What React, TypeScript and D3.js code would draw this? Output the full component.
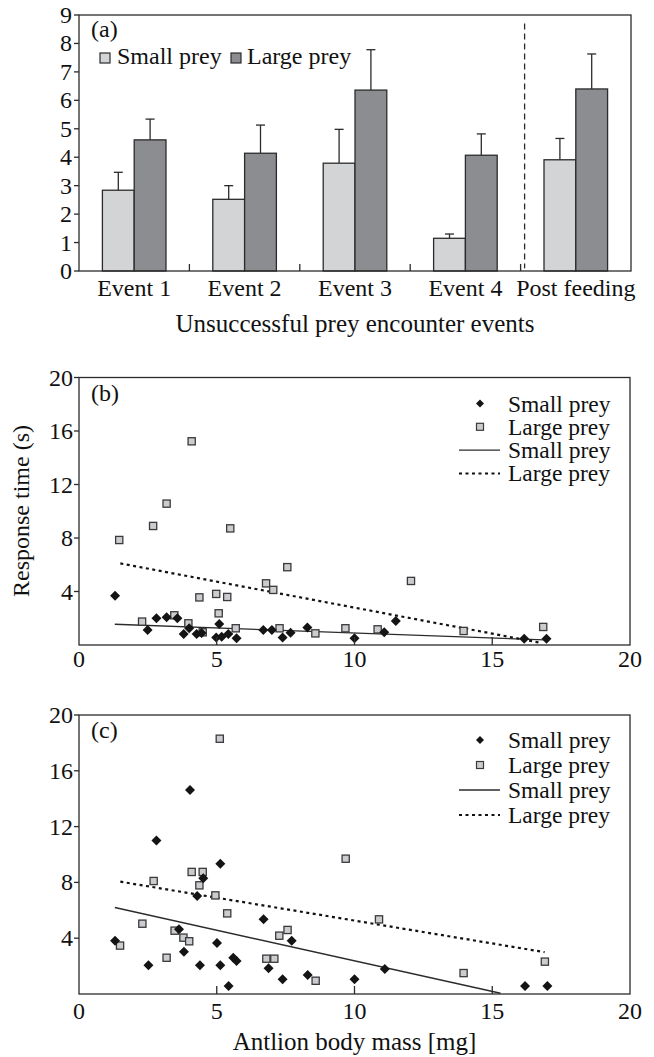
import React from "react";
import * as d3 from "d3";

// ---------- Panel (a) data ----------
const barCategories = ["Event 1", "Event 2", "Event 3", "Event 4", "Post feeding"];
const barSeries = ["Small prey", "Large prey"];
const smallPreyMean = [2.84, 2.52, 3.79, 1.15, 3.91];
const smallPreyErrTop = [3.47, 3.0, 4.98, 1.3, 4.66];
const largePreyMean = [4.61, 4.14, 6.36, 4.07, 6.4];
const largePreyErrTop = [5.34, 5.13, 7.78, 4.82, 7.63];
const barYTicks = [0, 1, 2, 3, 4, 5, 6, 7, 8, 9];

// ---------- Panel (b) data ----------
const bSmallX = [1.31, 2.49, 2.81, 3.18, 3.57, 3.8, 4.0, 4.27, 4.45, 4.98, 5.09, 5.18, 5.42, 5.72, 6.69, 7.0, 7.39, 7.68, 8.29, 10.0, 11.08, 11.5, 16.16, 16.97];
const bSmallY = [3.69, 1.12, 2.0, 2.07, 2.0, 0.82, 1.25, 0.82, 0.9, 0.57, 1.57, 0.62, 0.82, 0.5, 1.12, 1.12, 0.57, 0.92, 1.3, 0.5, 0.95, 1.79, 0.47, 0.47];
const bLargeX = [1.46, 2.29, 2.69, 3.18, 3.46, 3.97, 4.09, 4.37, 4.49, 4.98, 5.07, 5.38, 5.49, 5.69, 6.79, 7.05, 7.28, 7.56, 8.58, 9.67, 10.84, 12.05, 13.96, 16.85];
const bLargeY = [7.85, 1.75, 8.9, 10.57, 2.22, 1.62, 15.23, 3.56, 0.95, 3.82, 2.37, 3.59, 8.72, 1.25, 4.61, 4.12, 1.25, 5.82, 0.87, 1.25, 1.17, 4.79, 1.05, 1.35];
const bSmallFitX = [1.3, 16.9];
const bSmallFitY = [1.55, 0.38];
const bLargeFitX = [1.5, 16.8];
const bLargeFitY = [6.1, 0.15];

// ---------- Panel (c) data ----------
const cSmallX = [1.31, 2.52, 2.81, 3.63, 3.81, 4.03, 4.29, 4.39, 4.51, 5.01, 5.13, 5.13, 5.43, 5.6, 5.72, 6.7, 6.88, 7.39, 7.72, 8.3, 10.0, 11.1, 16.19, 17.0];
const cSmallY = [3.82, 2.06, 11.0, 4.64, 3.03, 14.62, 7.02, 2.06, 8.29, 3.66, 9.34, 2.06, 0.57, 2.6, 2.37, 5.35, 1.85, 1.05, 3.82, 1.36, 1.05, 1.8, 0.57, 0.57];
const cLargeX = [1.49, 2.3, 2.71, 3.18, 3.47, 3.79, 4.0, 4.09, 4.37, 4.49, 4.95, 5.11, 5.38, 6.8, 7.09, 7.27, 7.57, 8.59, 9.68, 10.89, 13.96, 16.91];
const cLargeY = [3.47, 5.04, 8.1, 2.6, 4.54, 4.04, 3.78, 8.75, 7.79, 8.75, 7.07, 18.3, 5.78, 2.53, 2.53, 4.18, 4.59, 0.95, 9.7, 5.35, 1.5, 2.32];
const cSmallFitX = [1.3, 15.3];
const cSmallFitY = [6.2, 0.05];
const cLargeFitX = [1.5, 16.9];
const cLargeFitY = [8.05, 3.0];

const scatterXTicks = [0, 5, 10, 15, 20];
const scatterYTicks = [4, 8, 12, 16, 20];
const legendLabels = ["Small prey", "Large prey", "Small prey", "Large prey"];

// ---------- styles ----------
const FONT = "'Liberation Serif', 'Times New Roman', serif";
const INK = "#2b2b2b";
const LIGHT = "#d3d4d6";
const DARK = "#8c8d90";
const SQ_FILL = "#cbcccf";

const diamondType = {
  draw(ctx: any, size: number) {
    const r = Math.sqrt(size) / 2;
    ctx.moveTo(0, -r);
    ctx.lineTo(r, 0);
    ctx.lineTo(0, r);
    ctx.lineTo(-r, 0);
    ctx.closePath();
  },
};
const diamondPath = d3.symbol(diamondType as any, 100)() as string;

function BarPanel() {
  const left = 79, right = 631, top = 15, bottom = 271;
  const x = d3.scaleBand<string>().domain(barCategories).range([left, right]).paddingInner(0.424).paddingOuter(0.212);
  const xs = d3.scaleBand<string>().domain(barSeries).range([0, x.bandwidth()]);
  const y = d3.scaleLinear().domain([0, 9]).range([bottom, top]);
  const step = x.step();
  const boundaries = d3.range(1, barCategories.length).map((i) => left + step * i);
  const series = [
    { name: barSeries[0], mean: smallPreyMean, err: smallPreyErrTop, fill: LIGHT },
    { name: barSeries[1], mean: largePreyMean, err: largePreyErrTop, fill: DARK },
  ];
  return (
    <g>
      {series.map((s) =>
        barCategories.map((c, i) => {
          const bx = (x(c) as number) + (xs(s.name) as number);
          const cx = bx + xs.bandwidth() / 2;
          return (
            <g key={s.name + c}>
              <line x1={cx} x2={cx} y1={y(s.mean[i])} y2={y(s.err[i])} stroke={INK} strokeWidth={1.3} />
              <line x1={cx - 4.5} x2={cx + 4.5} y1={y(s.err[i])} y2={y(s.err[i])} stroke={INK} strokeWidth={1.3} />
              <rect x={bx} y={y(s.mean[i])} width={xs.bandwidth()} height={y(0) - y(s.mean[i])} fill={s.fill} stroke={INK} strokeWidth={1.3} />
            </g>
          );
        })
      )}
      <rect x={left} y={top} width={right - left} height={bottom - top} fill="none" stroke={INK} strokeWidth={1.3} />
      {barYTicks.map((t) => (
        <g key={t}>
          <line x1={left - 5} x2={left} y1={y(t)} y2={y(t)} stroke={INK} strokeWidth={1.3} />
          <text x={left - 7} y={y(t) + 8} textAnchor="end" fontSize={24} fontFamily={FONT} fill="#111">{t}</text>
        </g>
      ))}
      {boundaries.map((b, i) => (
        <line key={i} x1={b} x2={b} y1={bottom} y2={bottom - 7} stroke={INK} strokeWidth={1.3} />
      ))}
      <line x1={boundaries[3] + 4} x2={boundaries[3] + 4} y1={y(8.7)} y2={y(0.1)} stroke={INK} strokeWidth={1.3} strokeDasharray="6 4" />
      {barCategories.map((c) => (
        <text key={c} x={(x(c) as number) + x.bandwidth() / 2} y={296} textAnchor="middle" fontSize={24} fontFamily={FONT} fill="#111">{c}</text>
      ))}
      <text x={(left + right) / 2} y={332} textAnchor="middle" fontSize={25} fontFamily={FONT} fill="#111">Unsuccessful prey encounter events</text>
      <text x={91} y={37} fontSize={24} fontFamily={FONT} fill="#111">(a)</text>
      <rect x={100} y={53} width={10} height={10} fill={LIGHT} stroke={INK} strokeWidth={1.2} />
      <text x={117} y={64} fontSize={24} fontFamily={FONT} fill="#111">{barSeries[0]}</text>
      <rect x={231} y={53} width={10} height={10} fill={DARK} stroke={INK} strokeWidth={1.2} />
      <text x={247} y={64} fontSize={24} fontFamily={FONT} fill="#111">{barSeries[1]}</text>
    </g>
  );
}

type ScatterProps = {
  top: number;
  bottom: number;
  label: string;
  smallX: number[];
  smallY: number[];
  largeX: number[];
  largeY: number[];
  smallFitX: number[];
  smallFitY: number[];
  largeFitX: number[];
  largeFitY: number[];
  legendTop: number;
  legendStep: number;
  tickLabelOffset: number;
};

function ScatterPanel(p: ScatterProps) {
  const left = 79, right = 630;
  const x = d3.scaleLinear().domain([0, 20]).range([left, right]);
  const y = d3.scaleLinear().domain([0, 20]).range([p.bottom, p.top]);
  const fitPath = (xs: number[], ys: number[]) =>
    d3.line<number>().x((d) => x(d)).y((d, i) => y(ys[i]))(xs) as string;
  const rows = [0, 1, 2, 3].map((i) => p.legendTop + i * p.legendStep);
  const lx = 480;
  return (
    <g>
      <path d={fitPath(p.smallFitX, p.smallFitY)} fill="none" stroke={INK} strokeWidth={1.4} />
      <path d={fitPath(p.largeFitX, p.largeFitY)} fill="none" stroke="#111" strokeWidth={2.2} strokeDasharray="3 3.5" />
      {p.largeX.map((v, i) => (
        <rect key={"l" + i} x={x(v) - 3.6} y={y(p.largeY[i]) - 3.6} width={7.2} height={7.2} fill={SQ_FILL} stroke="#3a3a3a" strokeWidth={1.3} />
      ))}
      {p.smallX.map((v, i) => (
        <path key={"s" + i} d={diamondPath} transform={`translate(${x(v)},${y(p.smallY[i])})`} fill="#141414" />
      ))}
      <rect x={left} y={p.top} width={right - left} height={p.bottom - p.top} fill="none" stroke={INK} strokeWidth={1.3} />
      {scatterYTicks.map((t) => (
        <g key={"yt" + t}>
          <line x1={left - 5} x2={left} y1={y(t)} y2={y(t)} stroke={INK} strokeWidth={1.3} />
          <text x={left - 6} y={y(t) + 8} textAnchor="end" fontSize={24} fontFamily={FONT} fill="#111">{t}</text>
        </g>
      ))}
      {scatterXTicks.map((t) => (
        <g key={"xt" + t}>
          {t > 0 && t < 20 ? <line x1={x(t)} x2={x(t)} y1={p.bottom} y2={p.bottom - 8} stroke={INK} strokeWidth={1.3} /> : null}
          <text x={x(t)} y={p.bottom + p.tickLabelOffset} textAnchor="middle" fontSize={24} fontFamily={FONT} fill="#111">{t}</text>
        </g>
      ))}
      <text x={91} y={p.top + 23} fontSize={24} fontFamily={FONT} fill="#111">{p.label}</text>
      <path d={diamondPath} transform={`translate(${lx},${rows[0]}) scale(0.8)`} fill="#141414" />
      <rect x={lx - 3.5} y={rows[1] - 3.5} width={7} height={7} fill={SQ_FILL} stroke="#3a3a3a" strokeWidth={1.2} />
      <line x1={459} x2={500} y1={rows[2]} y2={rows[2]} stroke={INK} strokeWidth={1.4} />
      <line x1={459} x2={500} y1={rows[3]} y2={rows[3]} stroke="#111" strokeWidth={2} strokeDasharray="3 3.5" />
      {legendLabels.map((l, i) => (
        <text key={"lg" + i} x={508} y={rows[i] + 8} fontSize={23.5} fontFamily={FONT} fill="#111">{l}</text>
      ))}
    </g>
  );
}

export default function App() {
  return (
    <svg width={654} height={1057} style={{ position: "absolute", left: 0, top: 0, background: "#fff" }}>
      <rect x={0} y={0} width={654} height={1057} fill="#fff" />
      <BarPanel />
      <ScatterPanel
        top={377.5}
        bottom={645}
        label="(b)"
        smallX={bSmallX}
        smallY={bSmallY}
        largeX={bLargeX}
        largeY={bLargeY}
        smallFitX={bSmallFitX}
        smallFitY={bSmallFitY}
        largeFitX={bLargeFitX}
        largeFitY={bLargeFitY}
        legendTop={403.5}
        legendStep={23.3}
        tickLabelOffset={22}
      />
      <ScatterPanel
        top={715}
        bottom={994}
        label="(c)"
        smallX={cSmallX}
        smallY={cSmallY}
        largeX={cLargeX}
        largeY={cLargeY}
        smallFitX={cSmallFitX}
        smallFitY={cSmallFitY}
        largeFitX={cLargeFitX}
        largeFitY={cLargeFitY}
        legendTop={740}
        legendStep={25}
        tickLabelOffset={25}
      />
      <text x={-511} y={29} transform="rotate(-90)" textAnchor="middle" fontSize={24} fontFamily={FONT} fill="#111">Response time (s)</text>
      <text x={354.5} y={1050} textAnchor="middle" fontSize={25} fontFamily={FONT} fill="#111">Antlion body mass [mg]</text>
    </svg>
  );
}
